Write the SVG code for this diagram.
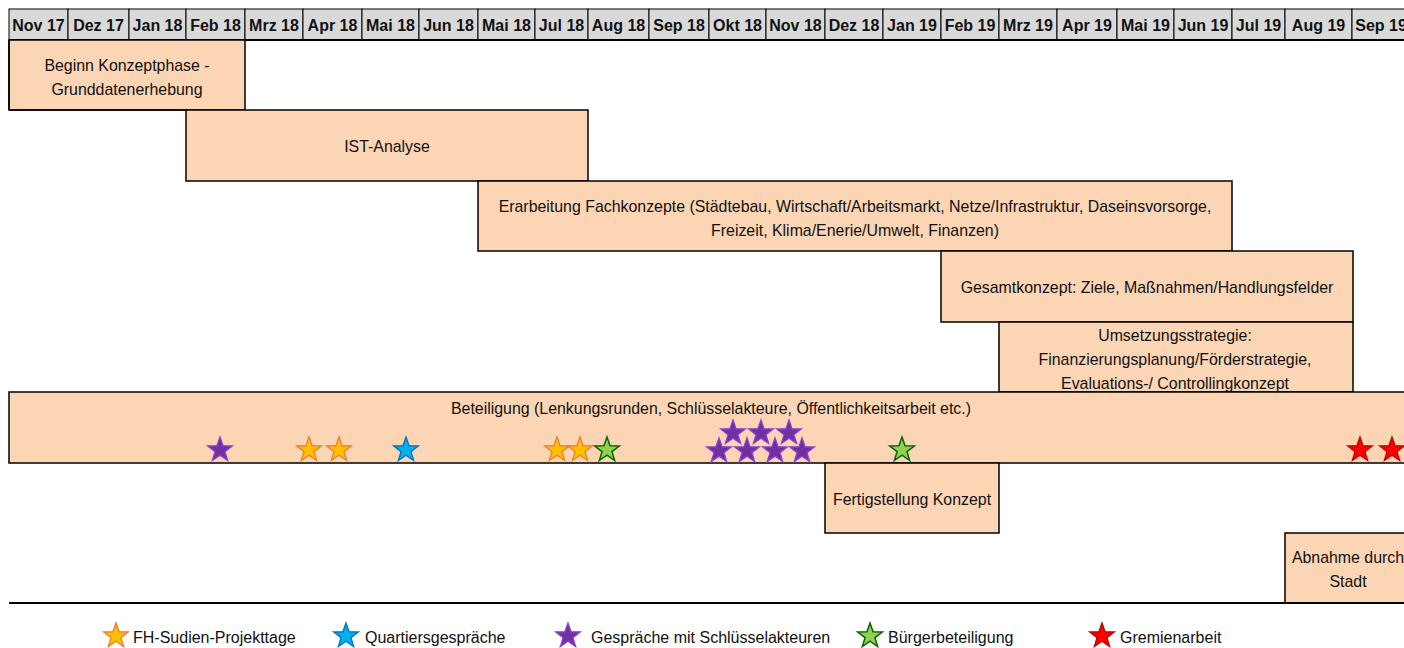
<svg xmlns="http://www.w3.org/2000/svg" width="1404" height="648" viewBox="0 0 1404 648">
<style>
.bg{fill:#ffffff}
.hdr{fill:#d9d9d9;stroke:#000;stroke-width:1}
.ht{font-family:"Liberation Sans",Arial,sans-serif;font-size:16px;font-weight:bold;fill:#111;text-anchor:middle}
.bar{fill:#fcd5b4;stroke:#000;stroke-width:1.5}
.t{font-family:"Liberation Sans",Arial,sans-serif;font-size:15.9px;fill:#111;text-anchor:middle}
.lt{font-family:"Liberation Sans",Arial,sans-serif;font-size:16px;fill:#111}
.or{fill:#ffc000;stroke:#ed7d31;stroke-width:1.3}
.bl{fill:#00b0f0;stroke:#0070c0;stroke-width:1.3}
.pu{fill:#7030a0;stroke:#8b3fcf;stroke-width:1.3}
.gr{fill:#92d050;stroke:#006600;stroke-width:1.5}
.rd{fill:#ff0000;stroke:#c00000;stroke-width:1.3}
</style>
<defs>
<path id="star" d="M0,-13 L3.06,-4.21 L12.36,-4.02 L4.95,1.61 L7.64,10.52 L0,5.2 L-7.64,10.52 L-4.95,1.61 L-12.36,-4.02 L-3.06,-4.21 Z"/>
</defs>
<rect class="bg" x="0" y="0" width="1404" height="648"/>

<g id="timeline-header">
<rect class="hdr" x="9" y="9" width="59" height="31"/><text class="ht" x="38.5" y="31">Nov 17</text>
<rect class="hdr" x="68" y="9" width="61" height="31"/><text class="ht" x="98.5" y="31">Dez 17</text>
<rect class="hdr" x="129" y="9" width="57" height="31"/><text class="ht" x="157.5" y="31">Jan 18</text>
<rect class="hdr" x="186" y="9" width="59" height="31"/><text class="ht" x="215.5" y="31">Feb 18</text>
<rect class="hdr" x="245" y="9" width="58" height="31"/><text class="ht" x="274" y="31">Mrz 18</text>
<rect class="hdr" x="303" y="9" width="59" height="31"/><text class="ht" x="332.5" y="31">Apr 18</text>
<rect class="hdr" x="362" y="9" width="57" height="31"/><text class="ht" x="390.5" y="31">Mai 18</text>
<rect class="hdr" x="419" y="9" width="59" height="31"/><text class="ht" x="448.5" y="31">Jun 18</text>
<rect class="hdr" x="478" y="9" width="57" height="31"/><text class="ht" x="506.5" y="31">Mai 18</text>
<rect class="hdr" x="535" y="9" width="53" height="31"/><text class="ht" x="561.5" y="31">Jul 18</text>
<rect class="hdr" x="588" y="9" width="61" height="31"/><text class="ht" x="618.5" y="31">Aug 18</text>
<rect class="hdr" x="649" y="9" width="60" height="31"/><text class="ht" x="679" y="31">Sep 18</text>
<rect class="hdr" x="709" y="9" width="57" height="31"/><text class="ht" x="737.5" y="31">Okt 18</text>
<rect class="hdr" x="766" y="9" width="59" height="31"/><text class="ht" x="795.5" y="31">Nov 18</text>
<rect class="hdr" x="825" y="9" width="58" height="31"/><text class="ht" x="854" y="31">Dez 18</text>
<rect class="hdr" x="883" y="9" width="58" height="31"/><text class="ht" x="912" y="31">Jan 19</text>
<rect class="hdr" x="941" y="9" width="58" height="31"/><text class="ht" x="970" y="31">Feb 19</text>
<rect class="hdr" x="999" y="9" width="58" height="31"/><text class="ht" x="1028" y="31">Mrz 19</text>
<rect class="hdr" x="1057" y="9" width="60" height="31"/><text class="ht" x="1087" y="31">Apr 19</text>
<rect class="hdr" x="1117" y="9" width="57" height="31"/><text class="ht" x="1145.5" y="31">Mai 19</text>
<rect class="hdr" x="1174" y="9" width="58" height="31"/><text class="ht" x="1203" y="31">Jun 19</text>
<rect class="hdr" x="1232" y="9" width="53" height="31"/><text class="ht" x="1258.5" y="31">Jul 19</text>
<rect class="hdr" x="1285" y="9" width="67" height="31"/><text class="ht" x="1318.5" y="31">Aug 19</text>
<rect class="hdr" x="1352" y="9" width="66" height="31"/><text class="ht" x="1381" y="31">Sep 19</text>
<line x1="9" y1="40" x2="1404" y2="40" stroke="#000" stroke-width="2"/>
</g>

<g id="node-beginn">
<rect class="bar" x="9" y="40" width="236" height="70" stroke="none"/>
<line x1="9" y1="40" x2="9" y2="110" stroke="#000" stroke-width="1.5"/>
<line x1="9" y1="110" x2="186" y2="110" stroke="#000" stroke-width="1.5"/>
<text class="t" x="127" y="71">Beginn Konzeptphase -</text>
<text class="t" x="127" y="95">Grunddatenerhebung</text>
</g>

<g id="node-ist">
<rect class="bar" x="186" y="110" width="402" height="71"/>
<text class="t" x="387" y="152">IST-Analyse</text>
</g>

<g id="node-fachkonzepte">
<rect class="bar" x="478" y="181" width="754" height="70"/>
<text class="t" x="855" y="212">Erarbeitung Fachkonzepte (Städtebau, Wirtschaft/Arbeitsmarkt, Netze/Infrastruktur, Daseinsvorsorge,</text>
<text class="t" x="855" y="236">Freizeit, Klima/Enerie/Umwelt, Finanzen)</text>
</g>

<g id="node-gesamtkonzept">
<rect class="bar" x="941" y="251" width="412" height="71"/>
<text class="t" x="1147" y="293">Gesamtkonzept: Ziele, Maßnahmen/Handlungsfelder</text>
</g>

<g id="node-umsetzung">
<rect class="bar" x="999" y="322" width="354" height="70"/>
<text class="t" x="1175" y="341">Umsetzungsstrategie:</text>
<text class="t" x="1175" y="365">Finanzierungsplanung/Förderstrategie,</text>
<text class="t" x="1175" y="389">Evaluations-/ Controllingkonzept</text>
</g>

<g id="node-beteiligung">
<rect class="bar" x="9" y="392" width="1420" height="71"/>
<text class="t" x="711" y="414">Beteiligung (Lenkungsrunden, Schlüsselakteure, Öffentlichkeitsarbeit etc.)</text>
<use href="#star" class="pu" x="220" y="450"/>
<use href="#star" class="or" x="309" y="450"/>
<use href="#star" class="or" x="339" y="450"/>
<use href="#star" class="bl" x="406" y="450"/>
<use href="#star" class="or" x="557" y="450"/>
<use href="#star" class="or" x="580" y="450"/>
<use href="#star" class="gr" x="607" y="450"/>
<use href="#star" class="pu" x="733" y="433"/>
<use href="#star" class="pu" x="761" y="433"/>
<use href="#star" class="pu" x="789" y="433"/>
<use href="#star" class="pu" x="719" y="451"/>
<use href="#star" class="pu" x="747" y="451"/>
<use href="#star" class="pu" x="775" y="451"/>
<use href="#star" class="pu" x="802" y="451"/>
<use href="#star" class="gr" x="902" y="450"/>
<use href="#star" class="rd" x="1360" y="450"/>
<use href="#star" class="rd" x="1392" y="450"/>
</g>

<g id="node-fertigstellung">
<rect class="bar" x="825" y="463" width="174" height="70"/>
<text class="t" x="912" y="505">Fertigstellung Konzept</text>
</g>

<g id="node-abnahme">
<rect class="bar" x="1285" y="533" width="140" height="70"/>
<text class="t" x="1348" y="563">Abnahme durch</text>
<text class="t" x="1348" y="587">Stadt</text>
</g>

<g id="connectors">
<line x1="9" y1="603" x2="1404" y2="603" stroke="#000" stroke-width="2"/>
</g>

<g id="legend">
<use href="#star" class="or" x="116" y="636"/>
<text class="lt" x="133" y="643">FH-Sudien-Projekttage</text>
<use href="#star" class="bl" x="346" y="636"/>
<text class="lt" x="365" y="643">Quartiersgespräche</text>
<use href="#star" class="pu" x="568" y="636"/>
<text class="lt" x="591" y="643">Gespräche mit Schlüsselakteuren</text>
<use href="#star" class="gr" x="870" y="636"/>
<text class="lt" x="888" y="643">Bürgerbeteiligung</text>
<use href="#star" class="rd" x="1102" y="636"/>
<text class="lt" x="1120" y="643">Gremienarbeit</text>
</g>
</svg>
